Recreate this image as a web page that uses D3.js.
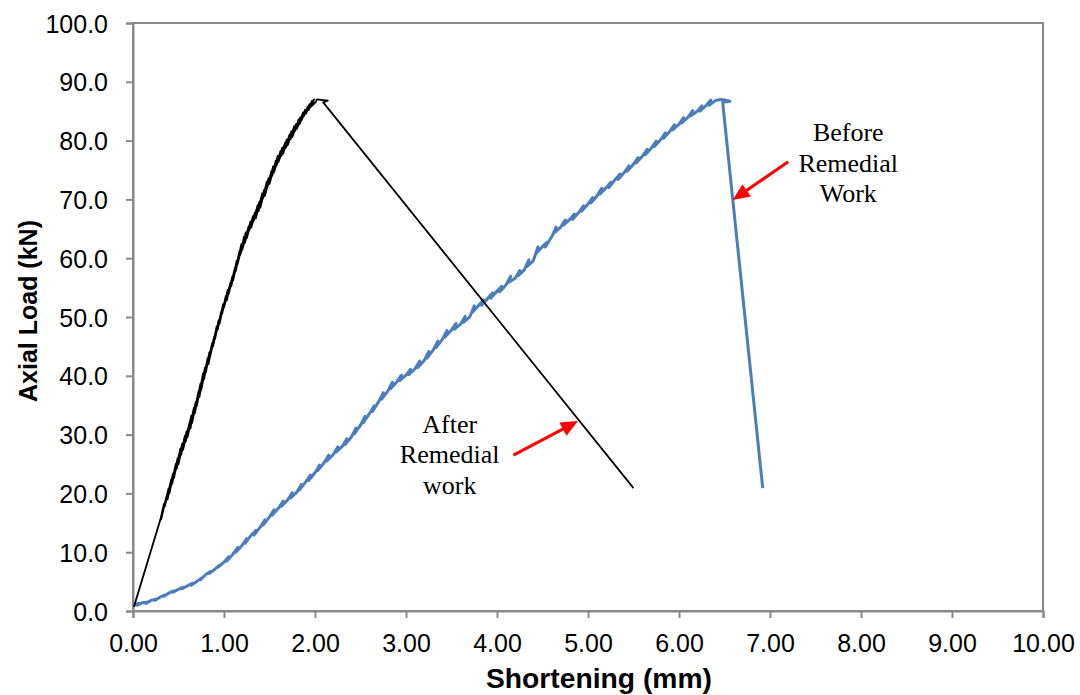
<!DOCTYPE html>
<html><head><meta charset="utf-8">
<script src="https://cdn.jsdelivr.net/npm/d3@7"></script>
<style>
html,body{margin:0;padding:0;background:#fff;}
svg{display:block;}
</style></head>
<body>
<script>
// ---- data ----
const xTicks = [0,1,2,3,4,5,6,7,8,9,10];
const yTicks = [0,10,20,30,40,50,60,70,80,90,100];
const xTitle = "Shortening (mm)";
const yTitle = "Axial Load (kN)";

// After Remedial work (black)
const afterRemedial = [[0.01,0.7],[0.30,15.5],
[0.34,18.2],[0.31,15.6],[0.37,19.6],[0.33,17.0],[0.39,20.8],[0.35,17.8],[0.42,22.4],[0.38,19.0],
[0.44,23.4],[0.40,20.0],[0.47,25.0],[0.43,21.6],[0.49,26.0],[0.45,22.6],[0.52,27.6],[0.48,24.2],
[0.54,28.4],[0.50,25.0],[0.57,29.8],[0.53,26.6],[0.59,30.6],[0.55,27.4],[0.62,32.0],[0.58,28.8],
[0.64,33.2],[0.60,29.6],[0.67,34.6],[0.63,31.0],[0.69,35.6],[0.65,32.0],[0.72,37.4],[0.68,33.6],
[0.74,38.6],[0.70,34.8],[0.77,40.4],[0.73,36.4],[0.79,41.4],[0.75,37.6],[0.82,43.0],[0.78,39.4],
[0.84,44.0],[0.80,40.6],[0.87,45.6],[0.83,42.0],[0.89,46.6],[0.85,43.4],[0.92,48.4],[0.88,45.0],
[0.94,49.4],[0.90,46.2],[0.97,51.0],[0.93,47.8],[0.99,52.2],[0.95,48.8],[1.02,53.6],[0.98,50.6],
[1.04,54.6],[1.00,51.6],[1.07,55.8],[1.03,52.8],[1.09,56.8],[1.05,53.8],[1.12,58.4],[1.08,55.2],
[1.14,59.6],[1.10,56.2],[1.17,61.2],[1.13,57.8],[1.19,62.4],[1.15,59.0],[1.22,63.6],[1.18,60.6],
[1.24,64.4],[1.20,61.4],[1.27,65.4],[1.23,62.6],[1.29,66.2],[1.25,63.4],[1.32,67.2],[1.28,64.8],
[1.34,67.8],[1.30,65.2],[1.37,69.0],[1.33,66.4],[1.39,69.6],[1.35,66.8],[1.42,71.0],[1.38,68.0],
[1.44,71.6],[1.40,68.6],[1.47,73.0],[1.43,70.2],[1.49,73.6],[1.45,70.6],[1.52,74.8],[1.48,72.2],
[1.54,75.6],[1.50,72.6],[1.57,76.6],[1.53,74.0],[1.59,77.4],[1.55,74.6],[1.62,78.2],[1.58,75.8],
[1.64,78.8],[1.60,76.4],[1.67,79.6],[1.63,77.4],[1.69,80.2],[1.65,77.8],[1.72,81.0],[1.68,78.8],
[1.74,81.6],[1.70,79.2],[1.77,82.4],[1.73,80.2],[1.79,82.8],[1.75,80.6],[1.82,83.6],[1.78,81.6],
[1.84,84.0],[1.80,82.0],[1.87,84.8],[1.83,82.8],[1.89,85.2],[1.85,83.4],[1.92,85.8],[1.88,84.2],
[1.94,86.2],[1.90,84.6],[1.97,86.8],[1.93,85.2],[1.99,87.0],[1.96,85.8],
[2.01,86.6],[2.02,87.0],[2.14,86.8],[2.09,86.5],[5.50,20.9]];

// Before Remedial Work (blue)
const beforeRemedial = [[0.02,1.0],[0.06,1.3],[0.05,1.0],[0.10,1.4],[0.15,1.5],[0.14,1.3],[0.20,1.8],[0.25,2.0],[0.24,1.8],[0.30,2.4],[0.35,2.7],[0.34,2.5],[0.40,3.1],[0.45,3.4],[0.44,3.2],[0.50,3.7],[0.55,4.0],[0.54,3.8],[0.60,4.3],[0.65,4.7],[0.64,4.4],[0.70,5.0],[0.75,5.6],[0.74,5.3],[0.80,6.2],[0.85,6.7],[0.84,6.4],[0.90,7.1],[0.95,7.8],[0.94,7.5],[1.00,8.3],[1.05,9.2],[1.03,8.5],[1.10,9.7],[1.15,10.8],[1.13,10.0],[1.20,11.2],[1.25,12.3],[1.23,11.5],[1.30,12.9],[1.35,13.7],[1.33,12.9],[1.40,14.3],[1.45,15.5],[1.43,14.6],[1.50,16.0],[1.55,17.2],[1.53,16.3],[1.60,17.5],[1.65,18.7],[1.63,17.8],[1.70,18.9],[1.75,20.1],[1.73,19.2],[1.80,20.2],[1.85,21.5],[1.83,20.6],[1.90,22.0],[1.95,23.1],[1.93,22.2],[2.00,23.5],[2.05,24.8],[2.03,23.9],[2.10,25.2],[2.15,26.5],[2.13,25.5],[2.20,26.6],[2.25,27.9],[2.23,27.0],[2.30,28.0],[2.35,29.3],[2.33,28.3],[2.40,29.6],[2.45,31.1],[2.43,30.1],[2.50,31.6],[2.55,33.1],[2.53,32.0],[2.60,33.6],[2.65,34.9],[2.63,33.9],[2.70,35.6],[2.75,37.1],[2.73,36.0],[2.80,37.4],[2.85,38.9],[2.83,37.8],[2.90,39.0],[2.95,40.1],[2.93,39.2],[3.00,40.1],[3.05,41.1],[3.03,40.2],[3.10,41.2],[3.15,42.5],[3.13,41.4],[3.20,42.6],[3.25,44.1],[3.23,43.0],[3.30,44.4],[3.35,45.9],[3.33,44.8],[3.40,46.2],[3.45,47.7],[3.43,46.6],[3.50,47.8],[3.55,48.9],[3.53,47.9],[3.60,48.8],[3.65,50.1],[3.63,49.1],[3.70,50.0],[3.75,51.9],[3.73,50.8],[3.80,52.0],[3.85,52.9],[3.83,52.0],[3.90,53.2],[3.95,54.1],[3.93,53.2],[4.00,54.4],[4.05,55.2],[4.03,54.3],[4.10,55.5],[4.15,56.9],[4.13,55.9],[4.20,56.6],[4.25,57.9],[4.23,57.0],[4.30,58.0],[4.35,59.7],[4.33,58.6],[4.40,59.6],[4.45,61.9],[4.43,60.8],[4.50,62.0],[4.55,62.7],[4.53,61.9],[4.60,63.6],[4.65,65.3],[4.63,64.3],[4.70,65.3],[4.75,66.5],[4.73,65.6],[4.80,66.6],[4.85,67.5],[4.83,66.6],[4.90,67.8],[4.95,68.9],[4.93,68.0],[5.00,69.2],[5.05,70.3],[5.03,69.4],[5.10,70.6],[5.15,71.9],[5.13,70.9],[5.20,72.0],[5.25,72.9],[5.23,72.0],[5.30,73.4],[5.35,74.3],[5.33,73.4],[5.40,74.6],[5.45,75.7],[5.43,74.8],[5.50,76.0],[5.55,77.1],[5.53,76.2],[5.60,77.4],[5.65,78.5],[5.63,77.6],[5.70,78.8],[5.75,79.9],[5.73,79.0],[5.80,80.2],[5.85,81.3],[5.83,80.4],[5.90,81.6],[5.95,82.7],[5.93,81.8],[6.00,82.8],[6.05,83.9],[6.03,83.0],[6.10,84.0],[6.15,85.1],[6.13,84.2],[6.20,85.0],[6.25,85.9],[6.23,85.0],[6.30,86.0],[6.35,86.9],[6.33,86.0],[6.40,86.8],[6.45,87.0],[6.50,86.9],[6.56,86.7],[6.48,86.5],[6.92,20.9]];

// annotations: text lines, anchor (data coords), arrow tail -> tip (data coords)
const afterLabel = ["After","Remedial","work"];
const afterLabelAt = [3.48, 30.3];
const afterArrow = [[4.18,26.5],[4.89,32.3]];
const beforeLabel = ["Before","Remedial","Work"];
const beforeLabelAt = [7.86, 79.9];
const beforeArrow = [[7.20,76.4],[6.59,69.9]];

// ---- chart ----
const W = 1080, H = 695;
const m = {left:133, right:37, top:23, bottom:84};
const svg = d3.select("body").append("svg").attr("width",W).attr("height",H);
svg.append("rect").attr("width",W).attr("height",H).attr("fill","#fff");

const x = d3.scaleLinear().domain([0,10]).range([m.left, W-m.right]);
const y = d3.scaleLinear().domain([0,100]).range([H-m.bottom, m.top]);
const axisColor = "#898989";

// plot border
svg.append("rect")
  .attr("x",x(0)).attr("y",y(100))
  .attr("width",x(10)-x(0)).attr("height",y(0)-y(100))
  .attr("fill","none").attr("stroke",axisColor).attr("stroke-width",2);

const gx = svg.append("g").attr("transform",`translate(0,${y(0)})`)
  .call(d3.axisBottom(x).tickValues(xTicks).tickSize(7).tickPadding(16).tickFormat(d3.format(".2f")));
const gy = svg.append("g").attr("transform",`translate(${x(0)},0)`)
  .call(d3.axisLeft(y).tickValues(yTicks).tickSize(7).tickPadding(18).tickFormat(d3.format(".1f")));
[gx,gy].forEach(g=>{
  g.select(".domain").attr("stroke",axisColor).attr("stroke-width",2);
  g.selectAll(".tick line").attr("stroke",axisColor).attr("stroke-width",2);
  g.selectAll(".tick text").attr("fill","#000")
    .style("font-family","Liberation Sans, Arial, sans-serif").style("font-size","25px");
});
gy.selectAll(".tick text").attr("dy","0.36em");

// axis titles
svg.append("text").attr("x",599).attr("y",688).attr("text-anchor","middle")
  .style("font-family","Liberation Sans, Arial, sans-serif").style("font-size","28px").style("font-weight","bold")
  .attr("textLength",226).attr("lengthAdjust","spacingAndGlyphs")
  .text(xTitle);
svg.append("text").attr("transform","translate(37,311) rotate(-90)").attr("text-anchor","middle")
  .style("font-family","Liberation Sans, Arial, sans-serif").style("font-size","25px").style("font-weight","bold")
  .attr("textLength",182).attr("lengthAdjust","spacingAndGlyphs")
  .text(yTitle);

// series
const line = d3.line().x(d=>x(d[0])).y(d=>y(d[1]));
svg.append("path").datum(beforeRemedial).attr("d",line)
  .attr("fill","none").attr("stroke","#4a7ebb").attr("stroke-width",3).attr("stroke-linejoin","round");
svg.append("path").datum(afterRemedial).attr("d",line)
  .attr("fill","none").attr("stroke","#000").attr("stroke-width",1.8).attr("stroke-linejoin","round");

// annotations
function label(lines, at){
  const t = svg.append("text").attr("text-anchor","middle")
    .style("font-family","Liberation Serif, Times New Roman, serif").style("font-size","26px").attr("fill","#000");
  lines.forEach((s,i)=>t.append("tspan").attr("x",x(at[0])).attr("y",y(at[1])+i*30.5).text(s));
}
function arrow(a){
  const x1=x(a[0][0]), y1=y(a[0][1]), x2=x(a[1][0]), y2=y(a[1][1]);
  const dx=x2-x1, dy=y2-y1, L=Math.hypot(dx,dy), ux=dx/L, uy=dy/L;
  const hl=17, hw=7.5;
  const bx=x2-ux*hl, by=y2-uy*hl;
  svg.append("line").attr("x1",x1).attr("y1",y1).attr("x2",bx+ux*2).attr("y2",by+uy*2)
    .attr("stroke","#ff0000").attr("stroke-width",3);
  svg.append("path").attr("d",`M${x2},${y2}L${bx-uy*hw},${by+ux*hw}L${bx+uy*hw},${by-ux*hw}Z`)
    .attr("fill","#ff0000");
}
label(afterLabel, afterLabelAt);
arrow(afterArrow);
label(beforeLabel, beforeLabelAt);
arrow(beforeArrow);
</script>
</body></html>
